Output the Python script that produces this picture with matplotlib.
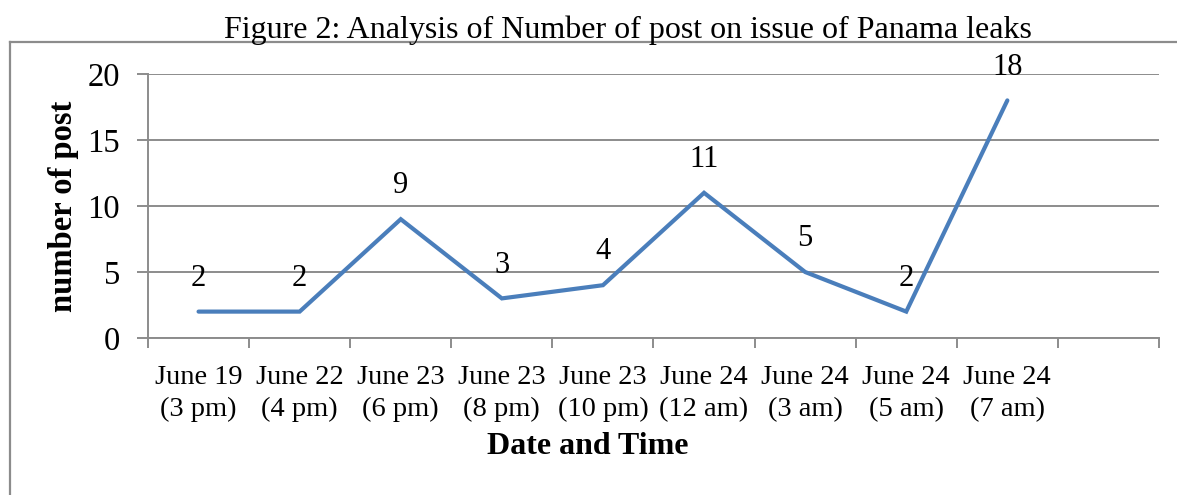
import matplotlib.pyplot as plt
from matplotlib.lines import Line2D

# data
dates = ["June 19", "June 22", "June 23", "June 23", "June 23",
         "June 24", "June 24", "June 24", "June 24"]
times = ["(3 pm)", "(4 pm)", "(6 pm)", "(8 pm)", "(10 pm)",
         "(12 am)", "(3 am)", "(5 am)", "(7 am)"]
posts = [2, 2, 9, 3, 4, 11, 5, 2, 18]

plt.rcParams['font.family'] = ['Liberation Serif', 'DejaVu Serif']

fig = plt.figure(figsize=(11.77, 4.95), dpi=100)
W, H = 1177, 495

ax = fig.add_axes([148 / W, 1 - 338 / H, (1159 - 148) / W, (338 - 74) / H])

xs = [i + 0.5 for i in range(len(posts))]
ax.plot(xs, posts, color='#4A7EBB', lw=3.0, solid_capstyle='round',
        solid_joinstyle='miter', zorder=3)

for x, v in zip(xs, posts):
    ax.annotate(str(v), (x, v), textcoords='offset points', xytext=(0, 24),
                ha='center', va='center', fontsize=22)

ax.set_xlim(0, 10)
ax.set_ylim(0, 20)
ax.set_yticks([0, 5, 10, 15, 20])
ax.set_xticks(range(11))
ax.set_xticklabels([])
for x, d, t in zip(xs, dates, times):
    ax.text(x, -4.2, d + "\n" + t, ha='center', va='center', fontsize=20.5,
            linespacing=1.4)

ax.grid(axis='y', color='#8c8c8c', lw=1.4)
ax.set_axisbelow(True)
for s in ['top', 'right']:
    ax.spines[s].set_visible(False)
for s in ['left', 'bottom']:
    ax.spines[s].set_color('#8c8c8c')
    ax.spines[s].set_linewidth(1.4)
ax.tick_params(axis='y', length=8, width=1.4, color='#8c8c8c', labelsize=23.5, pad=12)
ax.tick_params(axis='x', length=7, width=1.4, color='#8c8c8c')

ax.set_ylabel("number of post", fontsize=23.5, fontweight='bold', labelpad=6)
fig.text(588 / W, 1 - 447 / H, "Date and Time", ha='center', va='center',
         fontsize=23, fontweight='bold')
fig.text(628 / W, 1 - 30 / H,
         "Figure 2: Analysis of Number of post on issue of Panama leaks",
         ha='center', va='center', fontsize=23)

# outer chart border (left and top edges visible)
fig.add_artist(Line2D([10 / W, 10 / W], [0, 1 - 42 / H], color='#8c8c8c', lw=1.6))
fig.add_artist(Line2D([10 / W, 1], [1 - 42 / H, 1 - 42 / H], color='#8c8c8c', lw=1.6))

fig.savefig("out.png", dpi=100)
